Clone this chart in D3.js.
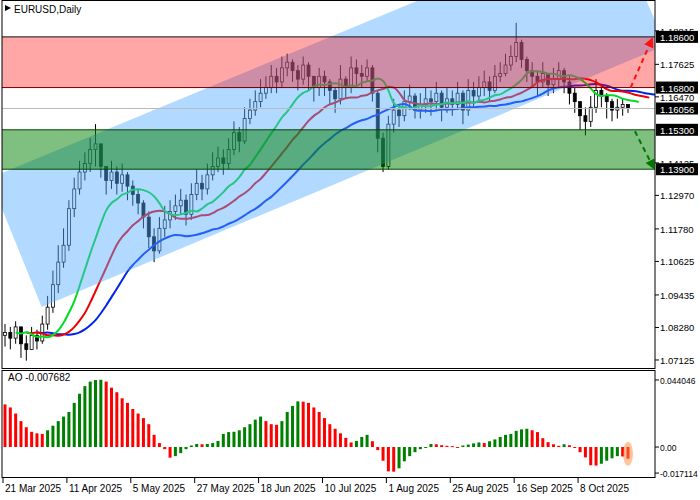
<!DOCTYPE html>
<html>
<head>
<meta charset="utf-8">
<script src="https://cdn.jsdelivr.net/npm/d3@7"></script>
<style>
  body { margin: 0; background: #fff; }
  text { font-family: "Liberation Sans", Arial, sans-serif; font-size: 10px; fill: #000; }
  text.ax { font-size: 9.5px; }
</style>
</head>
<body>
<svg id="chart" width="700" height="500"></svg>
<script>
// EURUSD daily, one bar per slot
const closes = [
  1.081,1.079,1.083,1.077,1.075,1.080,1.078,1.084,1.090,1.098,
  1.106,1.112,1.125,1.132,1.138,1.141,1.146,1.148,1.140,1.135,
  1.138,1.134,1.137,1.133,1.130,1.127,1.122,1.115,1.110,1.118,
  1.121,1.124,1.126,1.128,1.123,1.130,1.134,1.132,1.137,1.140,
  1.143,1.141,1.146,1.152,1.149,1.157,1.160,1.163,1.166,1.168,
  1.172,1.170,1.175,1.177,1.174,1.171,1.176,1.172,1.168,1.172,
  1.170,1.167,1.164,1.171,1.168,1.175,1.173,1.172,1.175,1.166,
  1.150,1.140,1.155,1.160,1.158,1.163,1.165,1.160,1.162,1.164,
  1.163,1.166,1.161,1.164,1.162,1.166,1.160,1.167,1.165,1.168,
  1.170,1.167,1.172,1.173,1.176,1.179,1.184,1.178,1.174,1.172,
  1.170,1.173,1.169,1.171,1.174,1.170,1.166,1.163,1.158,1.156,
  1.161,1.167,1.165,1.163,1.160,1.161,1.162,1.1606
];
const highs = [
  1.084,1.083,1.085,1.083,1.080,1.083,1.082,1.087,1.094,1.103,
  1.112,1.118,1.128,1.136,1.142,1.145,1.150,1.155,1.147,1.140,
  1.142,1.140,1.141,1.138,1.135,1.132,1.128,1.124,1.118,1.122,
  1.126,1.128,1.130,1.132,1.130,1.134,1.139,1.137,1.141,1.145,
  1.147,1.146,1.150,1.156,1.154,1.161,1.164,1.167,1.171,1.172,
  1.176,1.175,1.179,1.180,1.178,1.176,1.179,1.177,1.172,1.175,
  1.174,1.171,1.168,1.176,1.172,1.179,1.178,1.176,1.178,1.176,
  1.167,1.152,1.158,1.164,1.162,1.167,1.169,1.166,1.166,1.168,
  1.167,1.170,1.167,1.168,1.167,1.170,1.167,1.171,1.170,1.172,
  1.174,1.172,1.176,1.177,1.180,1.183,1.191,1.185,1.179,1.177,
  1.174,1.177,1.173,1.175,1.177,1.175,1.172,1.168,1.163,1.161,
  1.165,1.171,1.169,1.166,1.164,1.164,1.164,1.162
];
const lows = [
  1.076,1.075,1.077,1.072,1.071,1.075,1.075,1.077,1.082,1.088,
  1.095,1.104,1.110,1.122,1.130,1.135,1.138,1.140,1.136,1.130,
  1.132,1.130,1.131,1.128,1.126,1.123,1.118,1.111,1.106,1.109,
  1.115,1.118,1.121,1.123,1.119,1.121,1.128,1.128,1.130,1.135,
  1.138,1.137,1.139,1.144,1.145,1.148,1.155,1.158,1.161,1.164,
  1.166,1.166,1.168,1.172,1.170,1.167,1.169,1.167,1.163,1.165,
  1.165,1.162,1.159,1.162,1.164,1.166,1.169,1.168,1.170,1.163,
  1.145,1.138,1.139,1.152,1.154,1.156,1.160,1.157,1.157,1.159,
  1.158,1.160,1.156,1.159,1.158,1.160,1.155,1.158,1.161,1.163,
  1.165,1.163,1.166,1.170,1.172,1.174,1.177,1.175,1.170,1.168,
  1.165,1.168,1.165,1.166,1.168,1.166,1.162,1.159,1.153,1.151,
  1.154,1.159,1.161,1.157,1.156,1.157,1.158,1.159
];
// Awesome Oscillator
const ao = [
  0.028,0.026,0.022,0.017,0.013,0.010,0.009,0.0086,0.011,0.014,
  0.017,0.020,0.023,0.029,0.035,0.040,0.043,0.044,0.0442,0.043,
  0.039,0.036,0.032,0.029,0.025,0.022,0.019,0.015,0.008,0.0026,
  -0.0014,-0.007,-0.006,-0.004,-0.0014,0.001,0.002,0.0018,0.002,0.0026,
  0.004,0.0086,0.0098,0.010,0.011,0.013,0.015,0.018,0.020,0.017,
  0.015,0.0146,0.017,0.023,0.027,0.030,0.0298,0.029,0.026,0.023,
  0.019,0.015,0.012,0.009,0.006,0.003,0.004,0.0066,0.008,0.0038,
  -0.002,-0.009,-0.016,-0.0162,-0.014,-0.0094,-0.006,-0.0034,-0.0014,-0.0002,
  0.002,0.0018,0.0012,0.0008,0.0006,-0.0002,0.001,0.0016,0.0024,0.003,
  0.0026,0.0038,0.005,0.0066,0.008,0.0086,0.0106,0.0116,0.012,0.011,
  0.0098,0.0058,0.0032,0.0018,0.0008,0.0018,0.0012,-0.0002,-0.0034,-0.0068,
  -0.012,-0.0122,-0.011,-0.009,-0.0074,-0.006,-0.0062,-0.007682
];
const priceTicks = [1.07125,1.0828,1.09435,1.10625,1.1178,1.1297,1.14125,1.1647,1.17625,1.18815];
const levels = [1.186, 1.168, 1.153, 1.139];
const lastPrice = 1.16056;
const dateLabels = ["21 Mar 2025","11 Apr 2025","5 May 2025","27 May 2025","18 Jun 2025","10 Jul 2025","1 Aug 2025","25 Aug 2025","16 Sep 2025","8 Oct 2025"];
const dateIdx = [0,12,24,36,48,60,72,84,96,108];
// channel corners [bar index, price]
const channel = [[-1,1.1373],[-1,1.127],[6.9,1.0901],[124.1,1.183],[120.4,1.1991],[77.8,1.1991]];

const svg = d3.select('#chart');
const plotR = 655;
const x = d3.scaleLinear().domain([0, 117]).range([5, 628]);
const y = d3.scaleLinear().domain([1.0684, 1.1991]).range([368, 0]);
const yAo = d3.scaleLinear().domain([-0.0197, 0.0506]).range([477, 370]);
const n = closes.length;
const opens = closes.map((c, i) => i === 0 ? 1.080 : closes[i - 1]);

svg.append('clipPath').attr('id', 'clipMain')
  .append('rect').attr('x', 2).attr('y', 0).attr('width', plotR - 2).attr('height', 368);
const main = svg.append('g').attr('clip-path', 'url(#clipMain)');

// candles
const bw = 3;
const cg = main.append('g');
d3.range(n).forEach(i => {
  const up = closes[i] >= opens[i];
  cg.append('line').attr('x1', x(i)).attr('x2', x(i))
    .attr('y1', y(highs[i])).attr('y2', y(lows[i])).attr('stroke', '#000');
  const top = y(Math.max(opens[i], closes[i])), bot = y(Math.min(opens[i], closes[i]));
  cg.append('rect').attr('x', x(i) - bw / 2).attr('y', top)
    .attr('width', bw).attr('height', Math.max(1, bot - top))
    .attr('fill', up ? '#fff' : '#000').attr('stroke', '#000').attr('stroke-width', 0.8);
});

// alligator-style smoothed averages
function smma(period, shift) {
  const out = [];
  let v = closes[0];
  closes.forEach((c, i) => {
    v = i === 0 ? c : (v * (period - 1) + c) / period;
    out.push([i + shift, v]);
  });
  return out;
}
const line = d3.line().x(d => x(d[0])).y(d => y(d[1])).curve(d3.curveMonotoneX);
[[16, 6, '#0022ee'], [10, 4, '#ee0000'], [6, 2, '#00dd22']].forEach(([p, s, col]) => {
  main.append('path').datum(smma(p, s)).attr('d', line)
    .attr('fill', 'none').attr('stroke', col).attr('stroke-width', 2);
});

// channel and zones
main.append('path').attr('d', d3.line().x(d => x(d[0])).y(d => y(d[1]))(channel) + 'Z')
  .attr('fill', '#55aaff').attr('opacity', 0.45);
main.append('rect').attr('x', 2).attr('width', plotR).attr('y', y(levels[0]))
  .attr('height', y(levels[1]) - y(levels[0])).attr('fill', '#ff0000').attr('opacity', 0.35);
main.append('rect').attr('x', 2).attr('width', plotR).attr('y', y(levels[2]))
  .attr('height', y(levels[3]) - y(levels[2])).attr('fill', '#008000').attr('opacity', 0.5);
[['#111', levels[0]], ['#6a0000', levels[1]], ['#004400', levels[2]], ['#004400', levels[3]]].forEach(([c, v]) => {
  main.append('line').attr('x1', 2).attr('x2', plotR).attr('y1', y(v)).attr('y2', y(v)).attr('stroke', c);
});
main.append('line').attr('x1', 2).attr('x2', plotR).attr('y1', y(lastPrice)).attr('y2', y(lastPrice))
  .attr('stroke', '#bbb');

// forecast arrows
svg.append('defs').html(
  '<marker id="ar" viewBox="0 0 10 10" refX="8" refY="5" markerWidth="5" markerHeight="5" orient="auto"><path d="M0,0L10,5L0,10z" fill="#ff1010"/></marker>' +
  '<marker id="ag" viewBox="0 0 10 10" refX="8" refY="5" markerWidth="5" markerHeight="5" orient="auto"><path d="M0,0L10,5L0,10z" fill="#007700"/></marker>');
main.append('line').attr('x1', x(117.5)).attr('y1', y(1.168)).attr('x2', x(121.5)).attr('y2', y(1.1852))
  .attr('stroke', '#ff1010').attr('stroke-width', 2).attr('stroke-dasharray', '5,4').attr('marker-end', 'url(#ar)');
main.append('line').attr('x1', x(118.3)).attr('y1', y(1.1525)).attr('x2', x(121.8)).attr('y2', y(1.1395))
  .attr('stroke', '#007700').attr('stroke-width', 2).attr('stroke-dasharray', '5,4').attr('marker-end', 'url(#ag)');

// AO histogram
const aw = 3;
svg.selectAll('rect.ao').data(ao).join('rect').attr('class', 'ao')
  .attr('x', (d, i) => x(i) - aw / 2).attr('width', aw)
  .attr('y', d => Math.min(yAo(d), yAo(0)))
  .attr('height', d => Math.max(1, Math.abs(yAo(d) - yAo(0))))
  .attr('fill', (d, i) => i > 0 && d > ao[i - 1] ? '#008000' : '#ff0000');
svg.append('ellipse').attr('cx', x(n - 1)).attr('cy', yAo(-0.0045)).attr('rx', 5).attr('ry', 12)
  .attr('fill', '#ff8c40').attr('opacity', 0.5);

// frames
svg.append('rect').attr('x', 2).attr('y', 0.5).attr('width', plotR - 2).attr('height', 368)
  .attr('fill', 'none').attr('stroke', '#000');
svg.append('rect').attr('x', 2).attr('y', 370.5).attr('width', plotR - 2).attr('height', 107)
  .attr('fill', 'none').attr('stroke', '#000');

// price axis
priceTicks.forEach(v => {
  svg.append('line').attr('x1', plotR).attr('x2', plotR + 4).attr('y1', y(v)).attr('y2', y(v)).attr('stroke', '#000');
  svg.append('text').attr('class', 'ax').attr('x', plotR + 5).attr('y', y(v) + 4).text(v.toFixed(5));
});
[...levels, lastPrice].forEach(v => {
  svg.append('rect').attr('x', plotR + 1).attr('y', y(v) - 6).attr('width', 42).attr('height', 12).attr('fill', '#000');
  svg.append('text').attr('class', 'ax').attr('x', plotR + 5).attr('y', y(v) + 4).style('fill', '#fff').text(v.toFixed(5));
});

// AO axis
[[0.044046, '0.044046'], [0, '0.00'], [-0.017114, '-0.017114']].forEach(([v, t]) => {
  svg.append('line').attr('x1', plotR).attr('x2', plotR + 4).attr('y1', yAo(v)).attr('y2', yAo(v)).attr('stroke', '#000');
  svg.append('text').attr('class', 'ax').attr('x', plotR + 5).attr('y', yAo(v) + 4)
    .style('font-size', '8.5px').text(t);
});

// date axis
dateIdx.forEach((d, k) => {
  svg.append('line').attr('x1', x(d) - 2).attr('x2', x(d) - 2).attr('y1', 478).attr('y2', 483).attr('stroke', '#000');
  svg.append('text').attr('x', x(d)).attr('y', 492).text(dateLabels[k]);
});

// titles
svg.append('path').attr('d', 'M5,5L11,8L5,11Z').attr('fill', '#000');
svg.append('text').attr('x', 14).attr('y', 13).text('EURUSD,Daily');
svg.append('text').attr('x', 8).attr('y', 381).text('AO -0.007682');
</script>
</body>
</html>
